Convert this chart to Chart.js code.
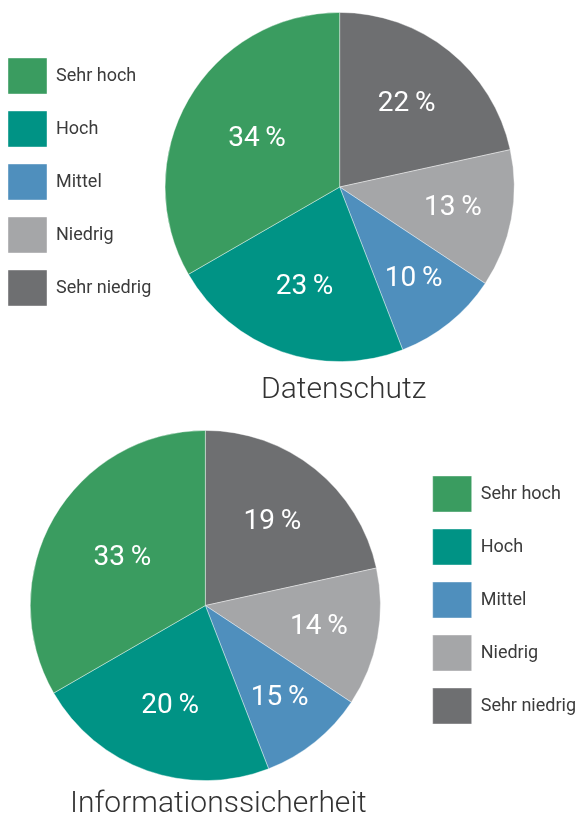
<!DOCTYPE html>
<html>
<head>
<meta charset="UTF-8">
<title>Datenschutz und Informationssicherheit</title>
<script src="https://cdn.jsdelivr.net/npm/chart.js"></script>
<style>
  html, body {
    margin: 0;
    padding: 0;
    width: 576px;
    height: 816px;
    overflow: hidden;
    background: #fff;
  }
  .box { position: absolute; }
  #boxOben { left: -9px; top: 0; width: 576px; height: 410px; }
  #boxUnten { left: -5px; top: 410px; width: 591px; height: 412px; }
</style>
</head>
<body>
<div class="box" id="boxOben"><canvas id="grafikOben"></canvas></div>
<div class="box" id="boxUnten"><canvas id="grafikUnten"></canvas></div>

<script>
const kategorien = ['Sehr hoch', 'Hoch', 'Mittel', 'Niedrig', 'Sehr niedrig'];
const farben = ['#3a9c60', '#009385', '#4f8fbd', '#a5a6a8', '#6e6f71'];

const titelOben = 'Datenschutz';
const werteOben = [34, 23, 10, 13, 22];

const titelUnten = 'Informationssicherheit';
const werteUnten = [33, 20, 15, 14, 19];
// im Original sind die Segmente unten genauso gross gezeichnet wie oben
const segmenteUnten = [34, 23, 10, 13, 22];

// Prozentangaben in die Segmente schreiben
const prozentLabels = {
  id: 'prozentLabels',
  afterDatasetsDraw(chart, args, opts) {
    const ctx = chart.ctx;
    const meta = chart.getDatasetMeta(0);
    meta.data.forEach((arc, i) => {
      const p = arc.getProps(['x', 'y', 'startAngle', 'endAngle', 'outerRadius'], true);
      const mitte = (p.startAngle + p.endAngle) / 2;
      const anteil = (p.endAngle - p.startAngle) / (2 * Math.PI);
      const d = p.outerRadius * (0.73 - 0.55 * anteil);
      ctx.save();
      ctx.font = '400 28px Roboto';
      ctx.fillStyle = '#ffffff';
      ctx.textAlign = 'center';
      ctx.textBaseline = 'middle';
      ctx.fillText(opts.texte[i] + '\u2009%', p.x + Math.cos(mitte) * d, p.y + Math.sin(mitte) * d);
      ctx.restore();
    });
  }
};

// Titel etwas nach rechts schieben, wie im Original
const titelVersatz = {
  id: 'titelVersatz',
  afterLayout(chart, args, opts) {
    const t = chart.titleBlock;
    if (t) { t.left += opts.dx; t.right += opts.dx; }
  }
};

// Segmente laufen im Uhrzeigersinn ab 12 Uhr von "Sehr niedrig" bis "Sehr hoch",
// die Legende bleibt in der Reihenfolge Sehr hoch ... Sehr niedrig
function baueGrafik(id, segmente, texte, titel, seite, polster, titelPolster, dx) {
  const umgekehrt = a => a.slice().reverse();
  return new Chart(document.getElementById(id), {
    type: 'pie',
    data: {
      labels: umgekehrt(kategorien),
      datasets: [{
        data: umgekehrt(segmente),
        backgroundColor: umgekehrt(farben),
        borderColor: 'rgba(255,255,255,0.5)',
        borderWidth: 0.8
      }]
    },
    options: {
      responsive: true,
      maintainAspectRatio: false,
      animation: false,
      events: [],
      layout: { padding: polster },
      plugins: {
        legend: {
          position: seite,
          fullSize: false,
          align: 'start',
          title: { display: true, text: ' ', font: { size: 10, lineHeight: 1 }, padding: { top: 19, bottom: 0 } },
          labels: {
            boxWidth: 39,
            boxHeight: 36,
            padding: 17,
            color: '#3b3b3b',
            font: { family: 'Roboto', size: 18 },
            sort: (a, b) => b.index - a.index
          }
        },
        title: {
          display: true,
          text: titel,
          position: 'bottom',
          fullSize: false,
          color: '#333333',
          font: { family: 'Roboto', size: 30, weight: '300', lineHeight: 1.2 },
          padding: titelPolster
        },
        tooltip: { enabled: false },
        prozentLabels: { texte: umgekehrt(texte) },
        titelVersatz: { dx: dx }
      }
    },
    plugins: [prozentLabels, titelVersatz]
  });
}

baueGrafik('grafikOben', werteOben, werteOben, titelOben, 'left',
  { top: 12, right: 49, left: 0, bottom: 0 }, { top: 10, bottom: 2 }, 4);
baueGrafik('grafikUnten', segmenteUnten, werteUnten, titelUnten, 'right',
  { top: 20, right: 0, left: 0, bottom: 0 }, { top: 5, bottom: 0 }, 13);
</script>
</body>
</html>
